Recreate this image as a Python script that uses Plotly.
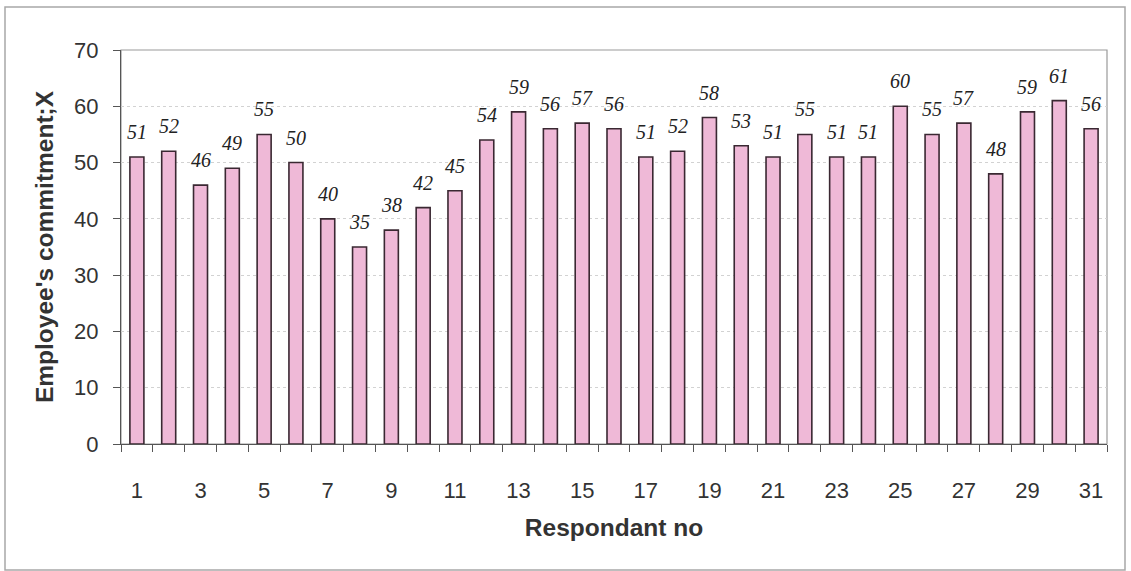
import plotly.graph_objects as go

# Commitment score per respondent
respondents = list(range(1, 32))
commitment = [51, 52, 46, 49, 55, 50, 40, 35, 38, 42, 45, 54, 59, 56, 57, 56,
              51, 52, 58, 53, 51, 55, 51, 51, 60, 55, 57, 48, 59, 61, 56]
x_tick_vals = list(range(1, 32, 2))
x_tick_text = [str(v) for v in x_tick_vals]
y_tick_vals = list(range(0, 71, 10))

W, H = 1131, 571
L, R, T, B = 121, 1107, 50, 444  # plot area in pixels


def px_x(p):
    return (p - L) / (R - L)


def px_y(p):
    return (B - p) / (B - T)


fig = go.Figure()
fig.add_trace(go.Bar(
    x=respondents,
    y=commitment,
    width=0.44,
    marker=dict(color="#efb9d7", line=dict(color="#3a2832", width=1.6)),
    hoverinfo="x+y",
))

# value labels above each bar
for r, v in zip(respondents, commitment):
    fig.add_annotation(
        x=r, y=v, text=str(v), showarrow=False,
        xanchor="center", yanchor="bottom", yshift=12,
        font=dict(family="Liberation Serif", size=20, color="#222", style="italic"),
    )

tick_font = dict(family="Liberation Sans", size=22, color="#333")
title_font = dict(family="Liberation Sans", size=24.5, color="#333", weight="bold")

fig.update_layout(
    width=W, height=H,
    margin=dict(l=L, r=W - R, t=T, b=H - B, pad=0),
    paper_bgcolor="white", plot_bgcolor="white",
    showlegend=False,
    xaxis=dict(
        range=[0.5, 31.5],
        tickmode="array", tickvals=x_tick_vals, ticktext=x_tick_text,
        ticks="outside", ticklen=0, tickcolor="white",
        ticklabelstandoff=26,
        minor=dict(tickmode="linear", tick0=0.5, dtick=1, ticks="outside",
                   ticklen=7, tickwidth=1, tickcolor="#555"),
        showline=True, linecolor="#555", linewidth=1.2,
        showgrid=False, zeroline=False,
        tickfont=tick_font,
        title=dict(text="Respondant no", font=title_font, standoff=17),
    ),
    yaxis=dict(
        range=[0, 70],
        tickmode="array", tickvals=y_tick_vals,
        ticks="outside", ticklen=7, tickwidth=1, tickcolor="#555",
        ticklabelstandoff=10,
        showline=True, linecolor="#555", linewidth=1.2,
        showgrid=True, gridcolor="#d2d2d2", griddash="dot", gridwidth=1,
        zeroline=False,
        tickfont=tick_font,
        title=dict(text="Employee's commitment;X", font=title_font, standoff=13),
    ),
    shapes=[
        # plot-area border
        dict(type="rect", xref="paper", yref="paper", x0=0, x1=1, y0=0, y1=1,
             line=dict(color="#9a9a9a", width=1.2), layer="below"),
        # outer chart frame
        dict(type="rect", xref="paper", yref="paper",
             x0=px_x(5), x1=px_x(1125), y0=px_y(570), y1=px_y(7),
             line=dict(color="#a8a8a8", width=1.5), layer="below"),
    ],
)

fig.write_html("out.html")
